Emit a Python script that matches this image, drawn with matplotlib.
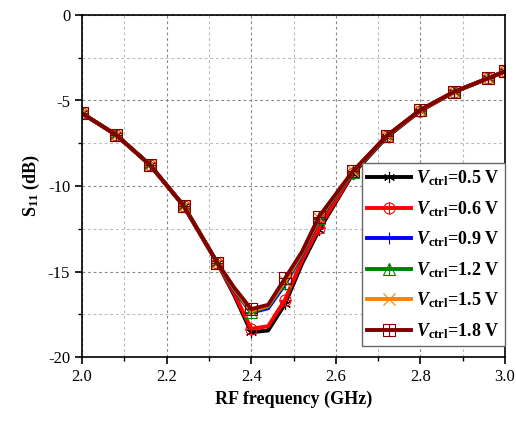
import matplotlib
matplotlib.use("Agg")
import matplotlib.pyplot as plt
from matplotlib.ticker import MultipleLocator
from matplotlib.legend_handler import HandlerTuple

plt.rcParams['font.family'] = ['Liberation Serif', 'DejaVu Serif']
plt.rcParams['axes.unicode_minus'] = False
plt.rcParams['mathtext.fontset'] = 'custom'
plt.rcParams['mathtext.rm'] = 'Liberation Serif'
plt.rcParams['mathtext.it'] = 'Liberation Serif:italic'
plt.rcParams['mathtext.bf'] = 'Liberation Serif:bold'
plt.rcParams['mathtext.bfit'] = 'Liberation Serif:bold:italic'

# frequency points (GHz)
freq = [2.00, 2.08, 2.16, 2.24, 2.32, 2.36, 2.40, 2.44, 2.48, 2.52, 2.56,
        2.64, 2.72, 2.80, 2.88, 2.96, 3.00]
# points that carry a marker
marked = [0, 1, 2, 3, 4, 6, 8, 10, 11, 12, 13, 14, 15, 16]

s11_05 = [-5.75, -7.0, -8.75, -11.15, -14.5, -16.4, -18.55, -18.45, -16.9, -14.55, -12.6,
          -9.3, -7.15, -5.6, -4.5, -3.7, -3.3]
s11_06 = [-5.75, -7.0, -8.75, -11.15, -14.5, -16.3, -18.35, -18.2, -16.65, -14.35, -12.45,
          -9.25, -7.1, -5.6, -4.5, -3.7, -3.3]
s11_09 = [-5.75, -7.0, -8.75, -11.15, -14.5, -16.1, -17.4, -17.15, -15.75, -14.0, -11.95,
          -9.2, -7.1, -5.55, -4.5, -3.7, -3.3]
s11_12 = [-5.75, -7.0, -8.75, -11.15, -14.5, -16.05, -17.35, -17.05, -15.65, -13.95, -11.9,
          -9.2, -7.1, -5.55, -4.5, -3.7, -3.3]
s11_15 = [-5.75, -7.0, -8.75, -11.15, -14.5, -16.0, -17.3, -17.0, -15.55, -13.9, -11.85,
          -9.15, -7.07, -5.55, -4.48, -3.7, -3.3]
s11_18 = [-5.75, -7.0, -8.75, -11.15, -14.5, -15.95, -17.2, -16.95, -15.4, -13.85, -11.8,
          -9.15, -7.07, -5.55, -4.48, -3.7, -3.3]

vctrl = ['0.5', '0.6', '0.9', '1.2', '1.5', '1.8']
series = [s11_05, s11_06, s11_09, s11_12, s11_15, s11_18]
colors = ['#000000', '#ff0000', '#0000ff', '#008000', '#ff8000', '#800000']
# (outer marker, overlay marker)
markers = [((6, 2, 0), None), ('o', '+'), ('+', None), ('^', '+'), ('x', None), ('s', '+')]

fig = plt.figure(figsize=(5.16, 4.23), dpi=100)
ax = fig.add_axes([82 / 516, 66 / 423, 423 / 516, 342 / 423])

handles = []
labels = []
for v, y, c, (m1, m2) in zip(vctrl, series, colors, markers):
  filled = m1 in ('+', 'x') or isinstance(m1, tuple)
  h1, = ax.plot(freq, y, color=c, lw=2.8, marker=m1, markevery=marked, ms=8,
                mfc=c if filled else 'none', mec=c, mew=0.8)
  hs = [h1]
  if m2 is not None:
    h2, = ax.plot(freq, y, color=c, ls='none', marker=m2, markevery=marked, ms=8, mew=0.8)
    hs.append(h2)
  handles.append(tuple(hs))
  labels.append(r'$\mathbfit{V}_{\mathbf{ctrl}}$=' + v + ' V')

ax.set_xlim(2.0, 3.0)
ax.set_ylim(-20, 0)
ax.xaxis.set_major_locator(MultipleLocator(0.2))
ax.xaxis.set_minor_locator(MultipleLocator(0.1))
ax.yaxis.set_major_locator(MultipleLocator(5))
ax.yaxis.set_minor_locator(MultipleLocator(2.5))
ax.xaxis.set_major_formatter(matplotlib.ticker.FormatStrFormatter('%.1f'))

ax.grid(which='major', color='#888888', ls=(0, (2.5, 2.5)), lw=0.8)
ax.grid(which='minor', color='#bbbbbb', ls=(0, (2.5, 2.5)), lw=0.8)
ax.set_axisbelow(True)

ax.tick_params(which='both', direction='out', top=False, right=False, labelsize=12)
ax.tick_params(which='major', length=5, width=1.2)
ax.tick_params(which='minor', length=3, width=1.0)
for sp in ax.spines.values():
  sp.set_linewidth(1.2)

ax.set_xlabel('RF frequency (GHz)', fontsize=13, fontweight='bold')
ax.set_ylabel(r'S$_{\mathbf{11}}$ (dB)', fontsize=13, fontweight='bold')

leg = ax.legend(handles, labels, handler_map={tuple: HandlerTuple(ndivide=1, pad=0)},
                loc='upper right', bbox_to_anchor=(1.0, (357 - 163) / 342), borderaxespad=0,
                fancybox=False, framealpha=1, edgecolor='#666666',
                prop={'weight': 'bold', 'size': 13}, handlelength=2.4, handletextpad=0.3,
                labelspacing=0.6, borderpad=0.3)
leg.get_frame().set_linewidth(1.0)

fig.savefig('out.png', dpi=100)
